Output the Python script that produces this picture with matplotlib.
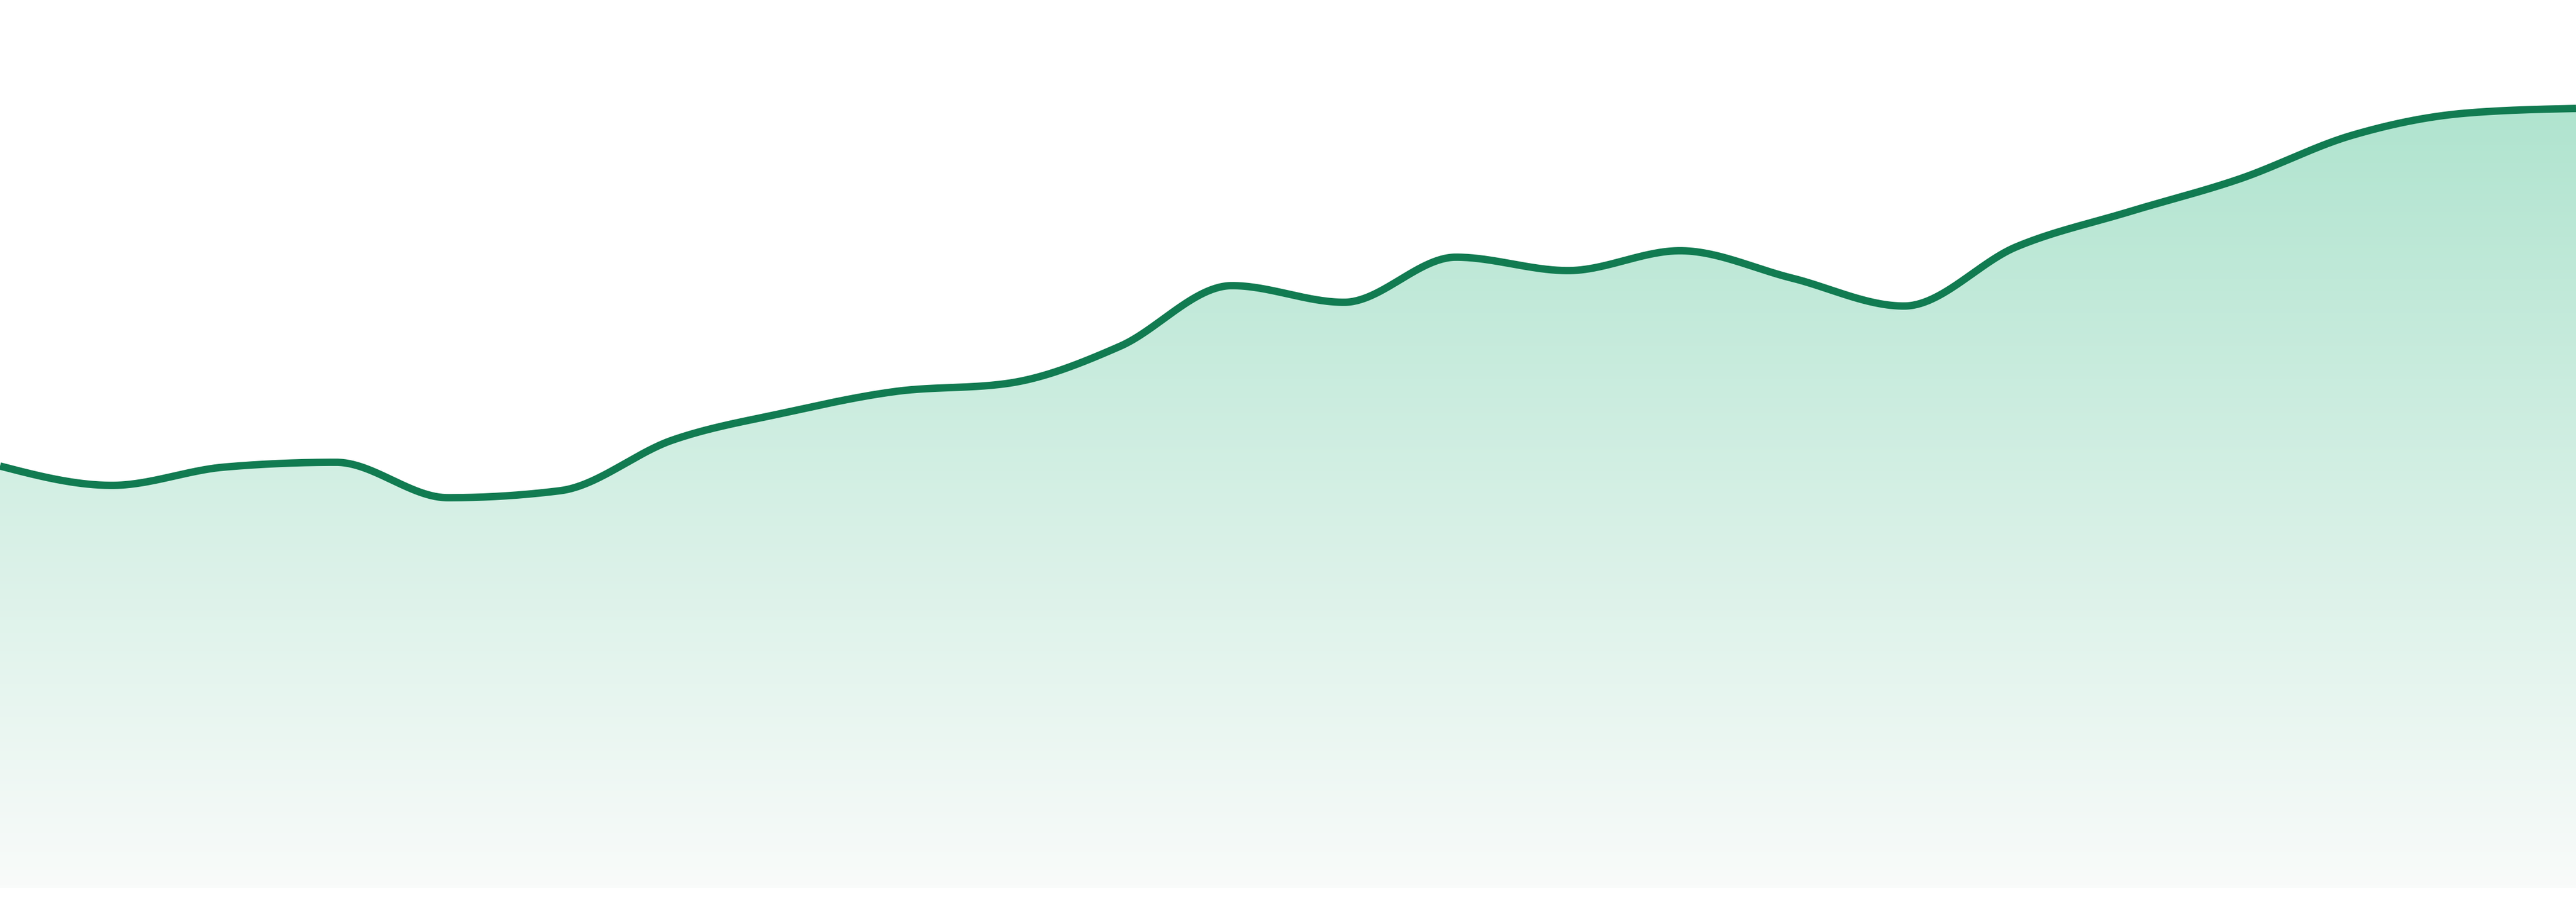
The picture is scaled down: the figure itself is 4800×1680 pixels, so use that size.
import numpy as np
import matplotlib.pyplot as plt
from matplotlib.colors import LinearSegmentedColormap

# 24 evenly spaced samples, heights above the baseline
values = [786, 750, 784, 793, 727, 740, 834, 885, 925, 940, 1009, 1122,
          1091, 1175, 1150, 1187, 1136, 1084, 1194, 1259, 1321, 1402, 1443, 1452]
x = np.arange(len(values))

line_color = '#117b51'
fill_top = '#b0e4cf'
fill_bottom = '#f9fbfa'


def monotone_curve(xs, ys, steps=60):
    # monotone cubic (same idea as d3 curveMonotoneX)
    xs = np.asarray(xs, float)
    ys = np.asarray(ys, float)
    n = len(xs)
    h = np.diff(xs)
    s = np.diff(ys) / h
    m = np.zeros(n)
    for i in range(1, n - 1):
        p = (s[i - 1] * h[i] + s[i] * h[i - 1]) / (h[i - 1] + h[i])
        m[i] = (np.sign(s[i - 1]) + np.sign(s[i])) * min(abs(s[i - 1]), abs(s[i]), 0.5 * abs(p))
    m[0] = (3 * s[0] - m[1]) / 2
    m[-1] = (3 * s[-1] - m[-2]) / 2
    px, py = [], []
    for i in range(n - 1):
        t = np.linspace(0, 1, steps, endpoint=(i == n - 2))
        h00 = 2 * t**3 - 3 * t**2 + 1
        h10 = t**3 - 2 * t**2 + t
        h01 = -2 * t**3 + 3 * t**2
        h11 = t**3 - t**2
        px.append(xs[i] + t * h[i])
        py.append(h00 * ys[i] + h10 * h[i] * m[i] + h01 * ys[i + 1] + h11 * h[i] * m[i + 1])
    return np.concatenate(px), np.concatenate(py)


cx, cy = monotone_curve(x, values)

fig = plt.figure(figsize=(16, 5.6), dpi=300)
ax = fig.add_axes([0, 26 / 1680, 1, 1654 / 1680])
ax.set_xlim(0, len(values) - 1)
ax.set_ylim(0, 1654)
ax.axis('off')

poly = ax.fill_between(cx, 0, cy, color='none', lw=0)
cmap = LinearSegmentedColormap.from_list('g', [fill_bottom, fill_top])
grad = np.linspace(0, 1, 256).reshape(-1, 1)
img = ax.imshow(grad, cmap=cmap, origin='lower', aspect='auto',
                extent=[0, len(values) - 1, 0, max(values)], zorder=1)
img.set_clip_path(poly.get_paths()[0], transform=ax.transData)

ax.plot(cx, cy, color=line_color, lw=3.3, solid_capstyle='butt', zorder=3)
ax.set_xlim(0, len(values) - 1)
ax.set_ylim(0, 1654)

fig.savefig('out.png', dpi=300, facecolor='white')
